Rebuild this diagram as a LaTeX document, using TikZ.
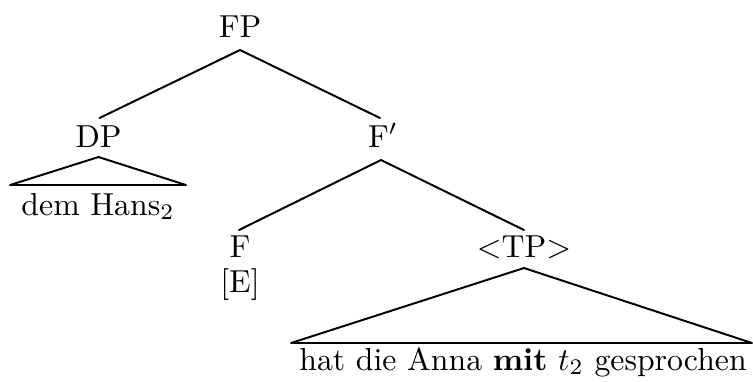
\documentclass[tikz,border=0pt]{standalone}
\begin{document}
\begin{tikzpicture}[x=0.3145pt,y=-0.3145pt,
  lbl/.style={anchor=base,inner sep=0pt,font=\normalsize},
  branch/.style={line width=0.62pt,line cap=round,line join=round},
  base/.style={line width=0.45pt}]
\useasboundingbox (0,0) rectangle (753,381);
% labels
\node[lbl] (FP) at (240,37) {FP};
\node[lbl] (DP) at (98.5,147) {DP};
\node[lbl] (Fbar) at (383,147) {F$'$};
\node[lbl] (Hans) at (98,215) {dem Hans$_2$};
\node[lbl] (F) at (240,257) {F};
\node[lbl] (E) at (240,292) {[E]};
\node[lbl] (TP) at (524,257) {$<$TP$>$};
\node[lbl] (hat) at (523,370) {hat die Anna \textbf{mit} $t_2$ gesprochen};
% branch end points
\coordinate (FPb) at (240,50);
\coordinate (DPt) at (99.5,118);
\coordinate (Fbt) at (380,118);
\coordinate (Fbb) at (381,160);
\coordinate (Ft) at (239,230);
\coordinate (TPt) at (524,230);
\coordinate (DPa) at (98.5,157);
\coordinate (DPl) at (10,185);
\coordinate (DPr) at (186,185);
\coordinate (TPa) at (524,268);
\coordinate (TPl) at (291,343);
\coordinate (TPr) at (752,343);
% branches
\draw[branch] (DPt) -- (FPb) -- (Fbt);
\draw[branch] (Ft) -- (Fbb) -- (TPt);
\draw[branch] (DPl) -- (DPa) -- (DPr);
\draw[base] (DPl) -- (DPr);
\draw[branch] (TPl) -- (TPa) -- (TPr);
\draw[base] (TPl) -- (TPr);
\end{tikzpicture}
\end{document}
